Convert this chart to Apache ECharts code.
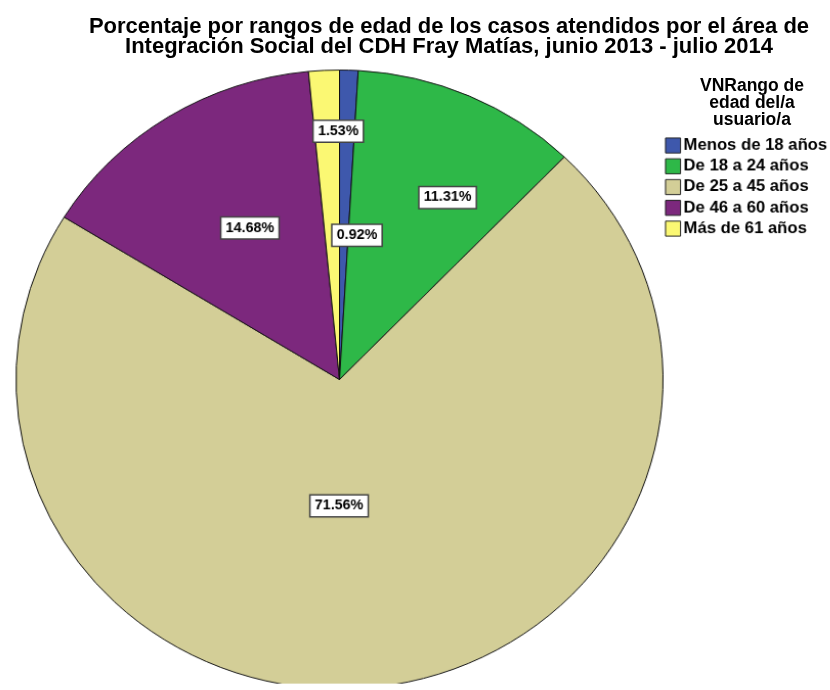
<!DOCTYPE html>
<html>
<head>
<meta charset="utf-8">
<script src="https://cdn.jsdelivr.net/npm/echarts@6/dist/echarts.min.js"></script>
<style>
  html, body { margin: 0; padding: 0; background: #fff; }
  #wrap { position: relative; width: 830px; height: 690px; overflow: hidden; }
  #pie, #overlay { position: absolute; left: 0; top: 0; width: 830px; height: 690px; }
</style>
</head>
<body>
<div id="wrap">
  <div id="pie"></div>
  <div id="overlay"></div>
</div>
<script>
// === Datos
const categories = ['Menos de 18 años', 'De 18 a 24 años', 'De 25 a 45 años', 'De 46 a 60 años', 'Más de 61 años'];
const percents = [0.92, 11.31, 71.56, 14.68, 1.53];
const colors = ['#3E58AC', '#2EB848', '#D3CE97', '#7C287D', '#FBF873'];

// posición de cada etiqueta: ángulo (grados desde las 12, horario) y fracción del radio
const labelAngles = [6.9, 30.7, 180.2, 329.4, 359.7];
const labelRadius = [0.46, 0.67, 0.40, 0.557, 0.786];

// el pastel de SPSS es un poco elíptico (más ancho que alto)
const CENTER = [339.5, 379.5];
const RADIUS = 316;
const SCALE_X = 323.5 / RADIUS;
const SCALE_Y = 309.5 / RADIUS;

const FONT = 'Liberation Sans, Arial, sans-serif';

const pieDom = document.getElementById('pie');
pieDom.style.transformOrigin = CENTER[0] + 'px ' + CENTER[1] + 'px';
pieDom.style.transform = 'scale(' + SCALE_X + ',' + SCALE_Y + ')';

const pieChart = echarts.init(pieDom);
const overlayChart = echarts.init(document.getElementById('overlay'));

// coordenadas de pantalla -> coordenadas dentro del contenedor escalado
function unscaleX(x) { return CENTER[0] + (x - CENTER[0]) / SCALE_X; }
function unscaleY(y) { return CENTER[1] + (y - CENTER[1]) / SCALE_Y; }

function buildPieData() {
    return categories.map((name, i) => ({
        name: name,
        value: percents[i],
        itemStyle: { color: colors[i] }
    }));
}

function labelPosition(idx) {
    const a = labelAngles[idx] * Math.PI / 180;
    const d = labelRadius[idx] * RADIUS;
    return {
        x: unscaleX(CENTER[0] + d * Math.sin(a)),
        y: unscaleY(CENTER[1] - d * Math.cos(a)),
        align: 'center',
        verticalAlign: 'middle'
    };
}

const pieOption = {
    animation: false,
    legend: {
        orient: 'vertical',
        left: unscaleX(665),
        top: unscaleY(137.5),
        padding: 0,
        icon: 'rect',
        itemWidth: 15 / SCALE_X,
        itemHeight: 15 / SCALE_Y,
        itemGap: 4.8 / SCALE_Y,
        selectedMode: false,
        itemStyle: { borderColor: '#222', borderWidth: 1 },
        textStyle: {
            fontFamily: FONT,
            fontSize: 16.3,
            fontWeight: 'bold',
            color: '#000',
            padding: [0, 0, 0, -2]
        },
        data: categories
    },
    series: [
        {
            type: 'pie',
            center: CENTER,
            radius: RADIUS,
            startAngle: 90,
            clockwise: true,
            silent: true,
            itemStyle: { borderColor: '#111', borderWidth: 1 },
            label: {
                show: true,
                position: 'inside',
                formatter: p => p.value.toFixed(2) + '%',
                fontFamily: FONT,
                fontSize: 14,
                fontWeight: 'bold',
                color: '#000',
                backgroundColor: '#fff',
                borderColor: '#444',
                borderWidth: 1.5,
                padding: [4, 4, 3, 4]
            },
            labelLine: { show: false },
            labelLayout: params => labelPosition(params.dataIndex),
            data: buildPieData()
        }
    ]
};

const overlayOption = {
    animation: false,
    title: [
        {
            text: 'Porcentaje por rangos de edad de los casos atendidos por el área de\nIntegración Social del CDH Fray Matías, junio 2013 - julio 2014',
            left: 444,
            top: 12,
            textAlign: 'center',
            textStyle: {
                fontFamily: FONT,
                fontSize: 22,
                fontWeight: 'bold',
                color: '#000',
                lineHeight: 20
            }
        },
        {
            text: 'VNRango de\nedad del/a\nusuario/a',
            left: 747,
            top: 73,
            textAlign: 'center',
            textStyle: {
                fontFamily: FONT,
                fontSize: 17.5,
                fontWeight: 'bold',
                color: '#000',
                lineHeight: 17
            }
        }
    ]
};

pieChart.setOption(pieOption);
overlayChart.setOption(overlayOption);
</script>
</body>
</html>
